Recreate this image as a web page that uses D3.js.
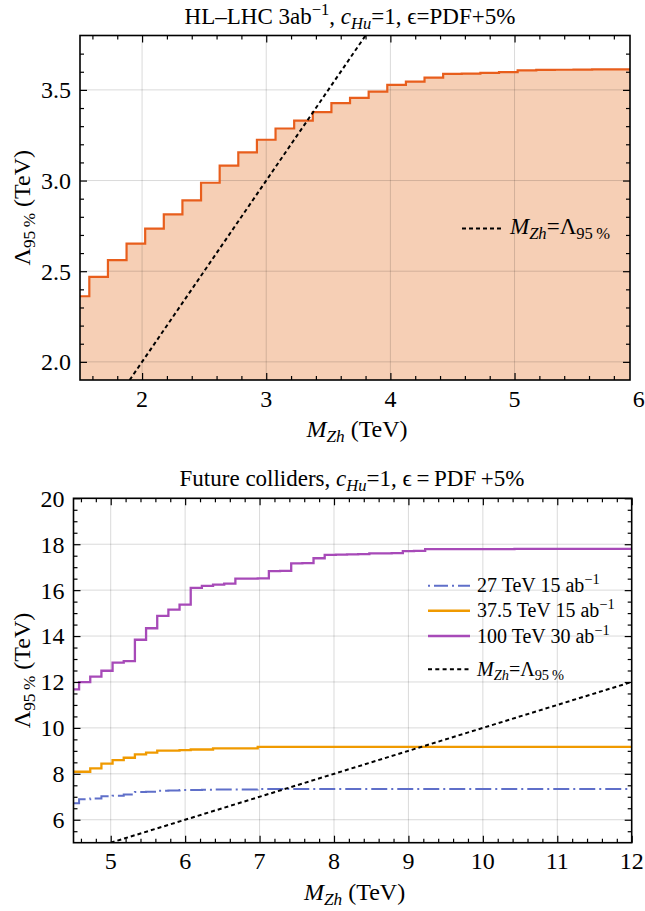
<!DOCTYPE html>
<html>
<head>
<meta charset="utf-8">
<script src="https://cdn.jsdelivr.net/npm/d3@7"></script>
<style>
  body { margin: 0; background: #fff; }
  svg text { font-family: 'Liberation Serif', 'Times New Roman', 'DejaVu Serif', serif; fill: #000; }
</style>
</head>
<body>
<svg id="fig" width="645" height="911"></svg>
<script>
// ---- top panel: HL-LHC ----
const hlMass = [1.5, 1.65, 1.8, 1.95, 2.1, 2.25, 2.4, 2.55, 2.7, 2.85, 3.0, 3.15, 3.3, 3.45, 3.6, 3.75,
  3.9, 4.05, 4.2, 4.35, 4.5, 4.65, 4.8, 4.95, 5.1, 5.25, 5.4, 5.55, 5.7, 5.85, 6.0];
const hlLambda = [2.362, 2.469, 2.561, 2.652, 2.735, 2.814, 2.891, 2.988, 3.082, 3.155, 3.225, 3.287,
  3.331, 3.377, 3.427, 3.456, 3.491, 3.528, 3.546, 3.568, 3.588, 3.590, 3.594, 3.598, 3.608, 3.610,
  3.611, 3.612, 3.613, 3.613, 3.614];
const hlDiag = [1.9, 3.8];
const hlXTicks = [2, 3, 4, 5, 6];
const hlYTicks = [2.0, 2.5, 3.0, 3.5];

// ---- bottom panel: future colliders ----
const fcMass = [4.5, 4.65, 4.8, 4.95, 5.1, 5.25, 5.4, 5.55, 5.7, 5.85, 6.0, 6.15, 6.3, 6.45, 6.6, 6.75,
  6.9, 7.05, 7.2, 7.35, 7.5, 7.65, 7.8, 7.95, 8.1, 8.25, 8.4, 8.55, 8.7, 8.85, 9.0, 9.15, 9.3, 9.45,
  9.6, 9.75, 9.9, 10.05, 10.2, 10.35, 10.5, 10.65, 10.8, 10.95, 11.1, 11.25, 11.4, 11.55, 11.7, 11.85, 12.0];
const fc27 = [6.72, 6.89, 6.93, 7.02, 7.05, 7.10, 7.21, 7.22, 7.26, 7.27, 7.30, 7.30, 7.31, 7.32, 7.32,
  7.32, 7.32, 7.34, 7.34, 7.34, 7.34, 7.34, 7.34, 7.34, 7.34, 7.34, 7.34, 7.34, 7.34, 7.34, 7.34, 7.34,
  7.34, 7.34, 7.34, 7.34, 7.34, 7.34, 7.34, 7.34, 7.34, 7.34, 7.34, 7.34, 7.34, 7.34, 7.34, 7.34, 7.34, 7.34, 7.34];
const fc375 = [8.09, 8.09, 8.24, 8.44, 8.60, 8.70, 8.85, 8.92, 9.01, 9.01, 9.03, 9.06, 9.06, 9.11, 9.11,
  9.11, 9.11, 9.17, 9.17, 9.17, 9.17, 9.17, 9.17, 9.17, 9.17, 9.17, 9.17, 9.17, 9.17, 9.17, 9.17, 9.17,
  9.17, 9.17, 9.17, 9.17, 9.17, 9.17, 9.17, 9.17, 9.17, 9.17, 9.17, 9.17, 9.17, 9.17, 9.17, 9.17, 9.17, 9.17, 9.17];
const fc100 = [11.68, 11.99, 12.23, 12.49, 12.84, 12.91, 13.84, 14.34, 14.88, 15.15, 15.37, 16.10, 16.19,
  16.24, 16.28, 16.50, 16.50, 16.51, 16.83, 16.84, 17.17, 17.18, 17.39, 17.54, 17.55, 17.56, 17.57, 17.60,
  17.60, 17.61, 17.70, 17.71, 17.79, 17.79, 17.79, 17.79, 17.79, 17.79, 17.79, 17.79, 17.80, 17.80, 17.80,
  17.80, 17.80, 17.80, 17.80, 17.80, 17.80, 17.80, 17.80];
const fcDiag = [5, 12];
const fcXTicks = [5, 6, 7, 8, 9, 10, 11, 12];
const fcYTicks = [6, 8, 10, 12, 14, 16, 18, 20];
const fcNames = ["27 TeV 15 ab", "37.5 TeV 15 ab", "100 TeV 30 ab"];
const fcSup = ["\u22121", "\u22121", "\u22121"];

const FONT = "'Liberation Serif', 'Times New Roman', 'DejaVu Serif', serif";
const svg = d3.select("#fig").attr("font-family", FONT);

// text with italic / sub / sup pieces
function rich(sel, parts, size) {
  sel.style("font-family", FONT);
  parts.forEach(p => {
    const ts = sel.append("tspan").text(p.t);
    if (p.i) ts.attr("font-style", "italic");
    if (p.sub) ts.attr("font-size", size * 0.72).attr("baseline-shift", -size * 0.22);
    if (p.sup) ts.attr("font-size", size * 0.72).attr("baseline-shift", size * 0.4);
  });
  return sel;
}

function panel(o) {
  const x = d3.scaleLinear().domain(o.xDom).range([o.left, o.right]);
  const y = d3.scaleLinear().domain(o.yDom).range([o.bottom, o.top]);
  const g = svg.append("g");

  svg.append("clipPath").attr("id", o.id)
    .append("rect").attr("x", o.left).attr("y", o.top)
    .attr("width", o.right - o.left).attr("height", o.bottom - o.top);

  const plot = g.append("g").attr("clip-path", `url(#${o.id})`);
  const majX = o.xTicks.filter(v => v <= o.xDom[1]);

  if (o.under) o.under(plot, x, y);

  // grid
  plot.selectAll(".gx").data(majX).enter().append("line")
    .attr("x1", d => x(d)).attr("x2", d => x(d)).attr("y1", o.top).attr("y2", o.bottom)
    .attr("stroke", "#000").attr("stroke-opacity", 0.15).attr("stroke-width", 1);
  plot.selectAll(".gy").data(o.yTicks).enter().append("line")
    .attr("y1", d => y(d)).attr("y2", d => y(d)).attr("x1", o.left).attr("x2", o.right)
    .attr("stroke", "#000").attr("stroke-opacity", 0.15).attr("stroke-width", 1);

  o.over(plot, x, y);

  // inward ticks on all sides
  const sides = [
    [d3.axisBottom(x), o.bottom, "x", 0],
    [d3.axisTop(x), o.top, "x", 0],
    [d3.axisLeft(y), 0, "y", o.left],
    [d3.axisRight(y), 0, "y", o.right]
  ];
  sides.forEach(([ax, ty, dim, tx]) => {
    const maj = dim === "x" ? majX : o.yTicks;
    const minr = dim === "x" ? o.xMinor : o.yMinor;
    [[minr, -4], [maj, -7]].forEach(([vals, len]) => {
      const a = g.append("g").attr("transform", `translate(${tx},${ty})`)
        .call(ax.tickValues(vals).tickSize(len).tickFormat(""));
      a.select(".domain").remove();
      a.selectAll("line").attr("stroke", "#000").attr("stroke-width", 1.2);
    });
  });

  g.append("rect").attr("x", o.left).attr("y", o.top)
    .attr("width", o.right - o.left).attr("height", o.bottom - o.top)
    .attr("fill", "none").attr("stroke", "#000").attr("stroke-width", 1.6);

  // tick labels
  g.selectAll(".lx").data(o.xTicks).enter().append("text")
    .style("font-family", FONT)
    .attr("x", d => x(d)).attr("y", o.bottom + 26.5)
    .attr("text-anchor", "middle").attr("font-size", 24).text(d => d);
  g.selectAll(".ly").data(o.yTicks).enter().append("text")
    .style("font-family", FONT)
    .attr("x", o.left - 9).attr("y", d => y(d)).attr("dy", "0.35em")
    .attr("text-anchor", "end").attr("font-size", 24).text(d => o.yFmt(d));

  // axis titles
  rich(g.append("text").attr("x", (o.left + o.right) / 2 + 2).attr("y", o.bottom + 57)
    .attr("text-anchor", "middle").attr("font-size", 24),
    [{ t: "M", i: 1 }, { t: "Zh", i: 1, sub: 1 }, { t: " (TeV)" }], 24);
  rich(g.append("text").attr("transform", `translate(30,${(o.top + o.bottom) / 2}) rotate(-90)`)
    .attr("text-anchor", "middle").attr("font-size", 24),
    [{ t: "\u039B" }, { t: "95\u2009%", sub: 1 }, { t: " (TeV)" }], 24);

  rich(g.append("text").attr("x", o.titleX).attr("y", o.top - 12)
    .attr("text-anchor", "middle").attr("font-size", 23), o.title, 23);
  return { x, y, g };
}

// ---------- top ----------
const topPanel = panel({
  id: "clipTop", left: 80, right: 630, top: 35.5, bottom: 380,
  xDom: [1.5, 5.93], yDom: [1.9, 3.8],
  xTicks: hlXTicks, yTicks: hlYTicks,
  xMinor: [1.6, 1.8, 2.2, 2.4, 2.6, 2.8, 3.2, 3.4, 3.6, 3.8, 4.2, 4.4, 4.6, 4.8, 5.2, 5.4, 5.6, 5.8],
  yMinor: [2.1, 2.2, 2.3, 2.4, 2.6, 2.7, 2.8, 2.9, 3.1, 3.2, 3.3, 3.4, 3.6, 3.7],
  yFmt: d => d.toFixed(1),
  titleX: 350,
  title: [{ t: "HL\u2013LHC 3ab" }, { t: "\u22121", sup: 1 }, { t: ", " }, { t: "c", i: 1 },
    { t: "Hu", i: 1, sub: 1 }, { t: "=1, \u03F5=PDF+5%" }],
  under: (p, x, y) => {
    const pts = hlMass.map((m, i) => [m, hlLambda[i]]);
    p.append("path").datum(pts)
      .attr("d", d3.area().curve(d3.curveStep).x(d => x(d[0])).y0(y(1.9)).y1(d => y(d[1])))
      .attr("fill", "#F6CFB5");
  },
  over: (p, x, y) => {
    const pts = hlMass.map((m, i) => [m, hlLambda[i]]);
    p.append("path").datum(pts)
      .attr("d", d3.line().curve(d3.curveStep).x(d => x(d[0])).y(d => y(d[1])))
      .attr("fill", "none").attr("stroke", "#E85E1C").attr("stroke-width", 2.2);
    p.append("path").datum(hlDiag)
      .attr("d", d3.line().x(d => x(d)).y(d => y(d)))
      .attr("fill", "none").attr("stroke", "#000").attr("stroke-width", 2).attr("stroke-dasharray", "4,3");
  }
});
topPanel.g.append("line").attr("x1", 462).attr("x2", 501).attr("y1", 228.5).attr("y2", 228.5)
  .attr("stroke", "#000").attr("stroke-width", 2).attr("stroke-dasharray", "4,3");
rich(topPanel.g.append("text").attr("x", 510).attr("y", 234).attr("font-size", 23),
  [{ t: "M", i: 1 }, { t: "Zh", i: 1, sub: 1 }, { t: "=\u039B" }, { t: "95\u2009%", sub: 1 }], 23);

// ---------- bottom ----------
const colors = ["#5F6FC9", "#F09A00", "#A74AB8"];
const dashes = ["16,4,2,4", null, null];
const series = [fc27, fc375, fc100];
const botPanel = panel({
  id: "clipBot", left: 73.5, right: 631.7, top: 498.3, bottom: 842.7,
  xDom: [4.5, 12], yDom: [5, 20],
  xTicks: fcXTicks, yTicks: fcYTicks,
  xMinor: [4.6, 4.8, 5.2, 5.4, 5.6, 5.8, 6.2, 6.4, 6.6, 6.8, 7.2, 7.4, 7.6, 7.8, 8.2, 8.4, 8.6, 8.8,
    9.2, 9.4, 9.6, 9.8, 10.2, 10.4, 10.6, 10.8, 11.2, 11.4, 11.6, 11.8],
  yMinor: [5.5, 6.5, 7, 7.5, 8.5, 9, 9.5, 10.5, 11, 11.5, 12.5, 13, 13.5, 14.5, 15, 15.5, 16.5, 17, 17.5,
    18.5, 19, 19.5],
  yFmt: d => d,
  titleX: 352,
  title: [{ t: "Future colliders, " }, { t: "c", i: 1 }, { t: "Hu", i: 1, sub: 1 },
    { t: "=1, \u03F5\u2009=\u2009PDF\u2009+5%" }],
  over: (p, x, y) => {
    const line = d3.line().curve(d3.curveStep).x(d => x(d[0])).y(d => y(d[1]));
    series.forEach((s, k) => {
      p.append("path").datum(fcMass.map((m, i) => [m, s[i]]))
        .attr("d", line).attr("fill", "none").attr("stroke", colors[k])
        .attr("stroke-width", k === 0 ? 2 : 2.3)
        .attr("stroke-dasharray", dashes[k]);
    });
    p.append("path").datum(fcDiag)
      .attr("d", d3.line().x(d => x(d)).y(d => y(d)))
      .attr("fill", "none").attr("stroke", "#000").attr("stroke-width", 2).attr("stroke-dasharray", "4,3");
  }
});

const rowsY = [585.7, 610.7, 636, 669.3];
fcNames.forEach((n, k) => {
  botPanel.g.append("line").attr("x1", 428).attr("x2", 470).attr("y1", rowsY[k]).attr("y2", rowsY[k])
    .attr("stroke", colors[k]).attr("stroke-width", k === 0 ? 2 : 2.5)
    .attr("stroke-dasharray", k === 0 ? "2,4,14,4" : null);
  rich(botPanel.g.append("text").attr("x", 477).attr("y", rowsY[k] + 6.5).attr("font-size", 20),
    [{ t: n }, { t: fcSup[k], sup: 1 }], 20);
});
botPanel.g.append("line").attr("x1", 428).attr("x2", 470).attr("y1", rowsY[3]).attr("y2", rowsY[3])
  .attr("stroke", "#000").attr("stroke-width", 2).attr("stroke-dasharray", "4,3.3");
rich(botPanel.g.append("text").attr("x", 477).attr("y", rowsY[3] + 6.5).attr("font-size", 20),
  [{ t: "M", i: 1 }, { t: "Zh", i: 1, sub: 1 }, { t: "=\u039B" }, { t: "95\u2009%", sub: 1 }], 20);
</script>
</body>
</html>
